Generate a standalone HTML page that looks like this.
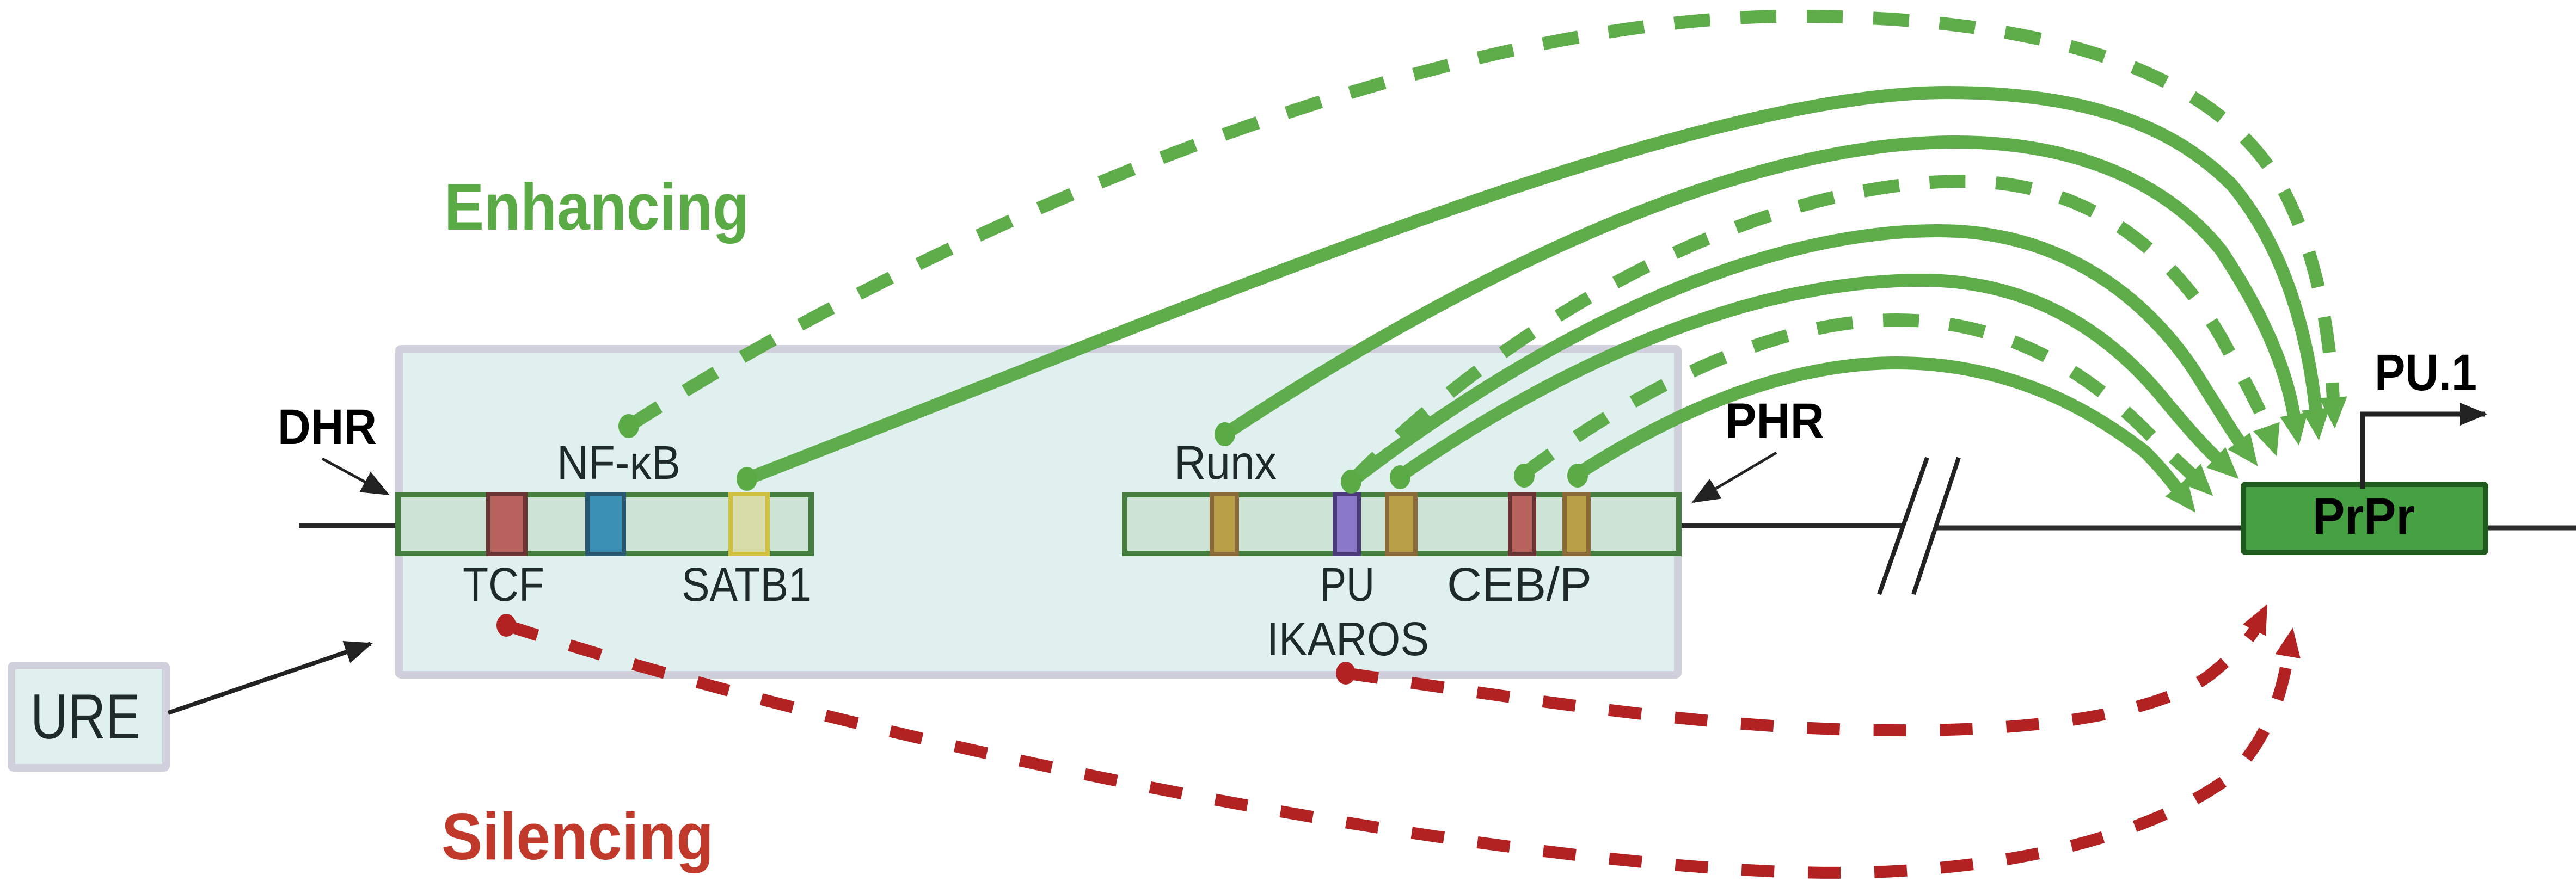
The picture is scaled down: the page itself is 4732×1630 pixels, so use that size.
<!DOCTYPE html>
<html><head><meta charset="utf-8"><style>html,body{margin:0;padding:0;background:#fff}svg{display:block}</style></head>
<body>
<svg xmlns="http://www.w3.org/2000/svg" width="4732" height="1630" viewBox="0 0 4732 1630">
<defs>
<marker id="ga" markerUnits="userSpaceOnUse" markerWidth="60" markerHeight="60" viewBox="0 -26 56 52" refX="2" refY="0" orient="auto"><path d="M0,-24 L54,0 L0,24 Z" fill="#5aaa46"/></marker>
<marker id="ra" markerUnits="userSpaceOnUse" markerWidth="60" markerHeight="60" viewBox="0 -26 56 52" refX="2" refY="0" orient="auto"><path d="M0,-22 L50,0 L0,22 Z" fill="#b22222"/></marker>
<marker id="ka" markerUnits="userSpaceOnUse" markerWidth="60" markerHeight="60" viewBox="0 -26 56 52" refX="44" refY="0" orient="auto"><path d="M0,-20 L48,0 L0,20 Z" fill="#222"/></marker>
</defs>

<!-- baseline -->
<g stroke="#2a2a2a" stroke-width="9">
<line x1="549" y1="966" x2="3496" y2="966"/>
<line x1="3557" y1="970" x2="4732" y2="970"/>
</g>
<g stroke="#222" stroke-width="8">
<line x1="3540" y1="841" x2="3452" y2="1092"/>
<line x1="3598" y1="841" x2="3515" y2="1092"/>
</g>

<!-- big box -->
<rect x="733" y="641" width="2349" height="599" rx="4" fill="#e0f0ee" stroke="#d0cfdc" stroke-width="14"/>

<!-- DHR element -->
<rect x="731" y="909" width="759" height="108" fill="#cde3d6" stroke="#467e40" stroke-width="10"/>
<rect x="897" y="908" width="68" height="110" fill="#b8625e" stroke="#6b3434" stroke-width="8"/>
<rect x="1079" y="908" width="67" height="110" fill="#3a8fb5" stroke="#285870" stroke-width="8"/>
<rect x="1342" y="908" width="68" height="110" fill="#d8dca8" stroke="#d0c040" stroke-width="8"/>
<!-- PHR element -->
<rect x="2066" y="909" width="1018" height="108" fill="#cde3d6" stroke="#467e40" stroke-width="10"/>
<rect x="2226" y="908" width="46" height="110" fill="#b8a048" stroke="#8a6a38" stroke-width="8"/>
<rect x="2452" y="908" width="44" height="110" fill="#8a78c8" stroke="#4a3a7a" stroke-width="8"/>
<rect x="2548" y="908" width="52" height="110" fill="#b8a048" stroke="#8a6a38" stroke-width="8"/>
<rect x="2774" y="908" width="44" height="110" fill="#b8625e" stroke="#6b3434" stroke-width="8"/>
<rect x="2874" y="908" width="44" height="110" fill="#b8a048" stroke="#8a6a38" stroke-width="8"/>

<!-- PrPr -->
<rect x="4121" y="890" width="445" height="125" rx="4" fill="#44a040" stroke="#1e5a1e" stroke-width="10"/>
<text x="4342" y="981" font-family="Liberation Sans, sans-serif" font-weight="bold" font-size="95" text-anchor="middle" textLength="188" lengthAdjust="spacingAndGlyphs">PrPr</text>
<path d="M4340,898 L4340,761 L4565,761" fill="none" stroke="#222" stroke-width="9" marker-end="url(#ka)"/>
<text x="4362" y="717" font-family="Liberation Sans, sans-serif" font-weight="bold" font-size="95" textLength="188" lengthAdjust="spacingAndGlyphs">PU.1</text>

<!-- URE -->
<rect x="21" y="1223" width="284" height="188" rx="4" fill="#e0f0ee" stroke="#d0cfdc" stroke-width="14"/>
<text x="56" y="1357" font-family="Liberation Sans, sans-serif" font-size="117" fill="#1e2a28" textLength="202" lengthAdjust="spacingAndGlyphs">URE</text>
<line x1="309" y1="1310" x2="681" y2="1183" stroke="#222" stroke-width="8" marker-end="url(#ka)"/>
<line x1="592" y1="843" x2="712" y2="908" stroke="#222" stroke-width="5" marker-end="url(#ka)"/>
<line x1="3263" y1="832" x2="3111" y2="922" stroke="#222" stroke-width="5" marker-end="url(#ka)"/>

<!-- labels -->
<g font-family="Liberation Sans, sans-serif" fill="#1e2a28" font-size="87">
<text x="1023" y="880" textLength="227" lengthAdjust="spacingAndGlyphs">NF-κB</text>
<text x="850" y="1104" textLength="150" lengthAdjust="spacingAndGlyphs">TCF</text>
<text x="1252" y="1104" textLength="239" lengthAdjust="spacingAndGlyphs">SATB1</text>
<text x="2157" y="880" textLength="188" lengthAdjust="spacingAndGlyphs">Runx</text>
<text x="2425" y="1104" textLength="100" lengthAdjust="spacingAndGlyphs">PU</text>
<text x="2658" y="1104" textLength="266" lengthAdjust="spacingAndGlyphs">CEB/P</text>
<text x="2327" y="1204" textLength="298" lengthAdjust="spacingAndGlyphs">IKAROS</text>
</g>
<g font-family="Liberation Sans, sans-serif" font-weight="bold" fill="#000" font-size="92">
<text x="510" y="816" textLength="182" lengthAdjust="spacingAndGlyphs">DHR</text>
<text x="3169" y="805" textLength="182" lengthAdjust="spacingAndGlyphs">PHR</text>
</g>
<text x="816" y="422" font-family="Liberation Sans, sans-serif" font-weight="bold" font-size="122" fill="#5aaa46" textLength="560" lengthAdjust="spacingAndGlyphs">Enhancing</text>
<text x="811" y="1579" font-family="Liberation Sans, sans-serif" font-weight="bold" font-size="122" fill="#c0392b" textLength="500" lengthAdjust="spacingAndGlyphs">Silencing</text>

<!-- green curves -->
<g fill="none" stroke="#5aaa46" stroke-width="24" opacity="0.97">
<path d="M1155,783 C1700,430 2600,40 3270,30 C3900,25 4120,200 4200,360 C4260,480 4280,620 4286,732" stroke-dasharray="66 56" marker-end="url(#ga)"/>
<path d="M1372,880 C2200,560 3100,170 3576,170 C3850,170 4000,240 4100,340 C4200,460 4240,620 4254,754" marker-end="url(#ga)"/>
<path d="M2250,798 C2700,500 3200,261 3591,261 C3850,261 4000,360 4080,460 C4160,580 4200,680 4214,764" marker-end="url(#ga)"/>
<path d="M2482,885 C2800,560 3250,333 3607,333 C3850,333 4000,480 4080,620 C4130,710 4155,760 4164,786" stroke-dasharray="66 56" marker-end="url(#ga)"/>
<path d="M2482,885 C2800,640 3200,424 3561,424 C3800,424 3950,560 4030,680 C4080,760 4105,800 4114,812" marker-end="url(#ga)"/>
<path d="M2566,879 C2850,680 3200,515 3530,515 C3760,515 3900,640 3980,740 C4030,800 4055,826 4072,842" marker-end="url(#ga)"/>
<path d="M2796,873 C3000,720 3250,588 3484,588 C3700,588 3850,700 3940,790 C3990,840 4012,858 4026,872" stroke-dasharray="66 56" marker-end="url(#ga)"/>
<path d="M2895,873 C3100,740 3300,667 3484,667 C3700,667 3850,760 3940,830 C3970,860 3985,880 3999,898" marker-end="url(#ga)"/>
</g>
<g fill="#5aaa46">
<ellipse cx="1155" cy="783" rx="19" ry="22"/>
<ellipse cx="1372" cy="880" rx="19" ry="22"/>
<ellipse cx="2250" cy="798" rx="19" ry="22"/>
<ellipse cx="2482" cy="885" rx="19" ry="22"/>
<ellipse cx="2572" cy="877" rx="19" ry="22"/>
<ellipse cx="2800" cy="874" rx="19" ry="22"/>
<ellipse cx="2898" cy="874" rx="19" ry="22"/>
</g>

<!-- red curves -->
<g fill="none" stroke="#b22222" stroke-width="22">
<path d="M930,1149 C1700,1400 2900,1620 3435,1603 C3800,1590 4000,1500 4100,1425 C4180,1340 4195,1250 4203,1204" stroke-dasharray="60 62" marker-end="url(#ra)"/>
<path d="M2472,1237 C2900,1300 3200,1345 3522,1342 C3800,1340 3980,1300 4060,1240 C4115,1195 4135,1170 4142,1156" stroke-dasharray="60 62" marker-end="url(#ra)"/>
</g>
<g fill="#b22222">
<ellipse cx="930" cy="1149" rx="18" ry="21"/>
<ellipse cx="2472" cy="1237" rx="18" ry="21"/>
</g>
</svg>
</body></html>
